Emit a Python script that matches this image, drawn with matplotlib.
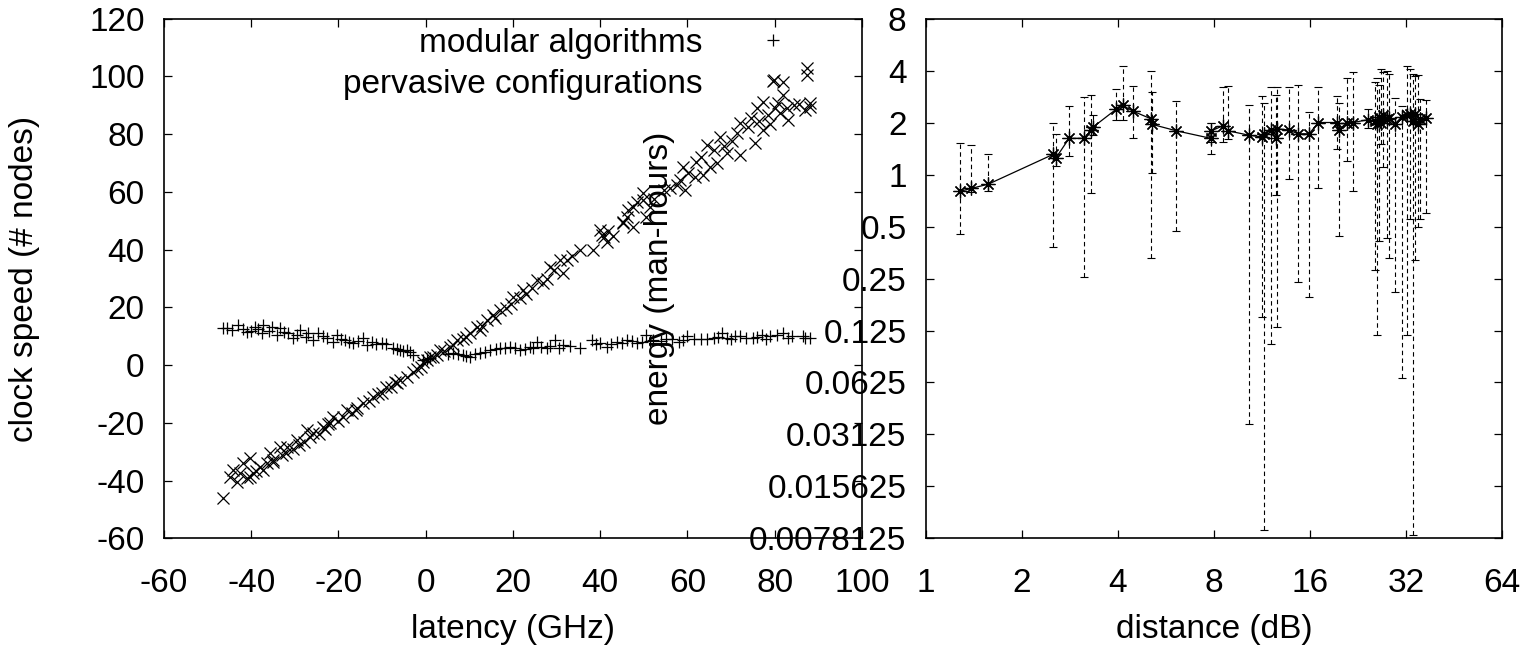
import numpy as np
import matplotlib
matplotlib.use("Agg")
from matplotlib import pyplot as plt
from matplotlib.ticker import FixedLocator, FixedFormatter, NullLocator

plt.rcParams['font.family'] = ['Liberation Sans', 'DejaVu Sans']
plt.rcParams['font.size'] = 24
plt.rcParams['axes.unicode_minus'] = False

# left panel: modular algorithms (+)
modX = [-46.4, -45.5, -44.5, -43.0, -42.0, -41.0, -40.0, -39.1, -38.5, -37.2, -37.6, -36.0,
        -35.3, -33.4, -34.2, -32.5, -31.5, -30.4, -29.5, -28.8, -27.5, -26.9, -25.8, -24.6,
        -23.5, -22.7, -21.2, -20.4, -19.5, -18.5, -17.5, -16.6, -15.5, -14.3, -13.5, -12.4,
        -11.5, -10.1, -9.0, -7.4, -6.5, -5.9, -5.2, -4.4, -3.6, -2.9, -0.6, 0.3, 1.0,
        5.0, 6.3, 7.5, 8.6, 9.3, 10.1, 11.2, 12.4, 13.5, 14.7, 16.0, 17.0, 18.2, 19.3, 20.5,
        21.6, 22.7, 23.9, 24.6, 25.4, 26.5, 27.7, 28.5, 29.6, 30.5, 31.5, 33.0, 35.4,
        38.0, 39.0, 40.0, 41.5, 42.5, 43.8, 45.0, 46.1, 47.3, 48.4, 49.5, 50.6, 51.4, 52.2,
        54.0, 55.0, 56.5, 58.0, 59.0, 60.0, 61.5, 63.0, 64.5, 66.0, 67.0, 68.0, 69.0, 70.0,
        71.0, 72.0, 73.5, 75.0, 76.0, 77.0, 78.0, 79.0, 80.5, 82.0, 83.0, 84.0, 86.5, 87.0, 88.0]
modY = [12.8, 13.0, 12.2, 13.9, 12.5, 11.6, 12.0, 13.3, 12.5, 13.9, 11.0, 11.8,
        13.3, 12.8, 10.4, 11.5, 11.0, 9.3, 10.5, 12.2, 9.8, 11.0, 8.7, 11.0,
        10.2, 9.3, 8.1, 10.4, 9.0, 8.7, 8.0, 7.6, 8.4, 9.3, 7.0, 8.1,
        7.2, 7.6, 7.4, 5.8, 5.5, 5.2, 4.9, 5.2, 4.6, 3.5, 1.8, 2.0, 2.4,
        3.8, 4.1, 4.0, 3.5, 3.3, 2.9, 3.8, 4.1, 4.6, 5.2, 5.5, 5.8, 5.9, 6.4, 6.0,
        5.2, 5.6, 6.4, 5.9, 8.1, 6.2, 5.8, 6.5, 8.7, 6.0, 7.0, 6.8, 5.8,
        8.7, 7.4, 7.6, 6.4, 7.3, 8.1, 7.8, 8.7, 8.3, 7.6, 8.0, 10.4, 8.5, 8.7,
        8.4, 9.0, 9.2, 8.0, 8.6, 10.0, 9.2, 9.0, 8.9, 9.5, 9.6, 11.0, 9.3, 9.0,
        10.2, 10.0, 9.4, 9.5, 9.8, 10.5, 9.2, 10.0, 10.3, 11.0, 9.4, 10.0, 10.0, 9.5, 9.4]

# left panel: pervasive configurations (x)
perX = [-46.4, -44.9, -44.1, -43.3, -42.5, -41.8, -41.0, -40.3, -40.3, -39.5, -39.0, -38.0,
        -37.2, -36.5, -35.7, -35.0, -34.9, -33.4, -33.0, -32.0, -31.9, -30.5, -29.6, -29.0,
        -28.0, -27.3, -26.5, -25.8, -24.5, -23.5, -23.0, -22.5, -21.9, -21.2, -20.0, -19.0,
        -18.1, -17.0, -16.0, -15.8, -14.3, -13.0, -12.0, -11.0, -10.0, -9.0, -8.0, -7.0,
        -6.7, -5.9, -4.4, -3.0, -2.0, -1.0, -0.6, 0.2, 1.0, 1.7, 2.5, 3.3, 4.2, 5.6, 6.3,
        7.1, 8.5, 9.3, 10.1, 11.7, 12.4, 13.0, 14.0, 15.5, 15.8, 17.0, 18.5, 19.5, 20.1,
        21.6, 22.4, 23.0, 24.3, 25.4, 26.9, 27.7, 28.5, 29.5, 30.8, 31.5, 32.3, 33.5, 35.4,
        38.4, 39.9, 40.3, 40.8, 41.5, 41.8, 43.0, 45.3, 45.3, 46.1, 46.4, 47.6, 47.6, 48.5,
        49.9, 49.9, 50.6, 51.4, 52.3, 54.5, 56.0, 57.5, 58.2, 59.0, 59.4, 60.2, 61.7, 62.0,
        63.0, 63.6, 64.4, 65.2, 66.0, 66.7, 67.5, 68.3, 69.0, 70.3, 71.3, 72.0, 72.0, 73.9,
        74.5, 75.5, 75.9, 76.3, 77.4, 77.4, 78.5, 79.0, 79.8, 80.1, 80.8, 81.2, 82.0, 82.0,
        82.8, 83.1, 84.3, 85.5, 87.0, 87.3, 87.3, 88.0, 88.1]
perY = [-46.1, -38.6, -36.3, -40.3, -37.5, -34.0, -39.0, -38.6, -32.2, -37.4, -36.5, -35.1,
        -36.3, -34.0, -30.5, -33.5, -32.8, -28.2, -31.0, -30.5, -28.2, -29.0, -25.9, -27.5,
        -26.5, -22.4, -25.0, -23.6, -24.0, -21.3, -22.0, -20.5, -20.1, -17.8, -19.5, -18.0,
        -15.5, -16.5, -15.5, -14.9, -13.2, -12.5, -10.9, -10.0, -9.5, -7.5, -7.5, -6.0,
        -6.3, -5.1, -4.0, -2.5, -1.5, -0.5, 1.2, 1.8, 2.9, 2.9, 3.5, 5.2, 4.8, 6.4, 7.1,
        8.7, 9.2, 9.8, 11.0, 13.3, 12.2, 13.5, 15.6, 17.4, 16.5, 19.1, 19.8, 21.2, 23.7,
        23.1, 26.0, 24.5, 26.8, 29.5, 28.3, 30.0, 34.1, 33.0, 36.4, 31.8, 36.4, 37.8, 39.9,
        39.9, 46.8, 45.0, 44.3, 42.7, 46.5, 44.8, 49.7, 49.1, 51.4, 53.7, 47.9, 54.9, 56.5,
        57.2, 59.5, 51.4, 54.9, 57.5, 60.8, 61.5, 62.4, 64.0, 68.7, 60.6, 66.4, 65.2, 70.2,
        72.0, 65.8, 76.2, 68.7, 74.5, 69.9, 79.1, 76.0, 73.3, 77.5, 80.3, 83.7, 72.7, 82.5,
        85.5, 76.8, 88.9, 84.5, 81.4, 91.2, 86.5, 83.5, 98.7, 88.9, 90.8, 87.2, 98.1, 93.5,
        89.0, 84.9, 90.0, 90.5, 88.3, 102.8, 100.4, 90.9, 89.5]

# right panel: energy vs distance with error bars
dist = [1.28, 1.385, 1.57, 2.51, 2.55, 2.81, 3.12, 3.30, 3.34, 3.94, 4.14, 4.47, 5.08, 5.12,
        6.1, 7.81, 7.85, 8.56, 8.86, 10.27, 11.3, 11.45, 12.07, 12.5, 12.6, 13.7, 14.7, 15.9,
        17.0, 19.5, 19.7, 20.9, 21.9, 24.4, 25.6, 26.0, 26.3, 26.8, 27.2, 27.8, 28.4, 29.6,
        31.0, 32.2, 33.0, 33.6, 34.2, 34.8, 35.5, 36.9]
energy = [0.80, 0.83, 0.88, 1.31, 1.24, 1.62, 1.62, 1.80, 1.88, 2.38, 2.51, 2.32, 2.10, 1.95,
          1.79, 1.62, 1.79, 1.92, 1.79, 1.69, 1.65, 1.72, 1.81, 1.62, 1.84, 1.81, 1.72, 1.72,
          2.0, 2.0, 1.81, 2.0, 2.0, 2.08, 2.05, 1.95, 2.15, 2.0, 2.2, 2.1, 2.12, 1.97,
          2.15, 2.2, 2.25, 2.05, 2.25, 1.95, 2.1, 2.11]
energyLo = [0.45, 0.79, 0.80, 0.38, 1.12, 1.28, 0.255, 0.78, 1.70, 2.08, 2.06, 1.62, 0.33, 1.02,
            0.47, 1.31, 1.55, 1.55, 1.60, 0.036, 0.15, 0.0087, 0.105, 0.76, 0.131, 0.94, 0.24, 0.195,
            0.84, 1.4, 0.44, 1.2, 0.8, 1.85, 0.28, 0.118, 0.41, 1.5, 1.1, 0.43, 0.33, 0.21,
            0.066, 0.117, 0.55, 0.0082, 0.32, 0.5, 0.55, 0.6]
energyHi = [1.52, 1.48, 1.31, 1.99, 1.72, 2.48, 2.80, 2.87, 2.20, 3.14, 4.25, 3.27, 3.97, 3.0,
            2.65, 1.99, 2.0, 3.2, 3.25, 2.51, 2.83, 2.6, 3.22, 2.9, 3.2, 3.19, 3.29, 2.29,
            3.19, 2.83, 2.6, 3.6, 3.93, 2.4, 3.45, 3.6, 3.3, 4.07, 3.9, 4.0, 3.8, 2.77,
            2.5, 4.25, 4.1, 3.8, 3.7, 3.75, 2.75, 2.7]

xTicksLeft = [-60, -40, -20, 0, 20, 40, 60, 80, 100]
yTicksLeft = [-60, -40, -20, 0, 20, 40, 60, 80, 100, 120]
xTicksRight = [1, 2, 4, 8, 16, 32, 64]
yTicksRight = [8, 4, 2, 1, 0.5, 0.25, 0.125, 0.0625, 0.03125, 0.015625, 0.0078125]
yTickLabelsRight = ['8', '4', '2', '1', '0.5', '0.25', '0.125', '0.0625', '0.03125', '0.015625', '0.0078125']

fig = plt.figure(figsize=(15.22, 6.46), dpi=100)
ax1 = fig.add_axes([0.10775, 0.16641, 0.45861, 0.80495])
ax2 = fig.add_axes([0.60841, 0.16641, 0.37845, 0.80495])

for ax in (ax1, ax2):
    for s in ax.spines.values():
        s.set_linewidth(1.2)
    ax.tick_params(direction='in', top=True, right=True, length=6, width=0.9,
                   labelsize=24)
    ax.tick_params(axis='y', pad=14)
    ax.tick_params(axis='x', pad=21)

# ---- left ----
ax1.plot(modX, modY, linestyle='none', marker='+', markersize=9, markeredgewidth=0.9,
         color='black', label='modular algorithms')
ax1.plot(perX, perY, linestyle='none', marker='x', markersize=8.5, markeredgewidth=0.9,
         color='black', label='pervasive configurations')
ax1.set_xlim(-60, 100)
ax1.set_ylim(-60, 120)
ax1.set_xticks(xTicksLeft)
ax1.set_yticks(yTicksLeft)
ax1.set_xlabel('latency (GHz)')
ax1.set_ylabel('clock speed (# nodes)')
ax1.xaxis.set_label_coords(0.5, -0.145)
ax1.yaxis.set_label_coords(-0.177, 0.5)
leg = ax1.legend(loc='upper right', bbox_to_anchor=(806 / 1522, 1 - 28 / 646),
                 bbox_transform=fig.transFigure, frameon=False, markerfirst=False,
                 borderpad=0, borderaxespad=0, handlelength=2.0, handletextpad=1.1,
                 labelspacing=0.3, fontsize=24)

# ---- right ----
ax2.set_xscale('log', base=2)
ax2.set_yscale('log', base=2)
dist_a = np.array(dist)
en = np.array(energy)
yerr = [en - np.array(energyLo), np.array(energyHi) - en]
eb = ax2.errorbar(dist_a, en, yerr=yerr, fmt='none', ecolor='black', elinewidth=0.8,
                  capsize=3, capthick=0.8)
eb[2][0].set_linestyle((0, (4, 3)))
ax2.plot(dist_a, en, '-', color='black', linewidth=0.9, marker=(8, 2, 0),
         markersize=10, markeredgewidth=0.9)
ax2.set_xlim(1, 64)
ax2.set_ylim(0.0078125, 8)
ax2.xaxis.set_major_locator(FixedLocator(xTicksRight))
ax2.xaxis.set_major_formatter(FixedFormatter([str(v) for v in xTicksRight]))
ax2.xaxis.set_minor_locator(NullLocator())
ax2.yaxis.set_major_locator(FixedLocator(yTicksRight))
ax2.yaxis.set_major_formatter(FixedFormatter(yTickLabelsRight))
ax2.yaxis.set_minor_locator(NullLocator())
ax2.set_xlabel('distance (dB)')
ax2.set_ylabel('energy (man-hours)')
ax2.xaxis.set_label_coords(0.5, -0.145)
ax2.yaxis.set_label_coords(-0.436, 0.5)

fig.savefig('out.png', dpi=100)
